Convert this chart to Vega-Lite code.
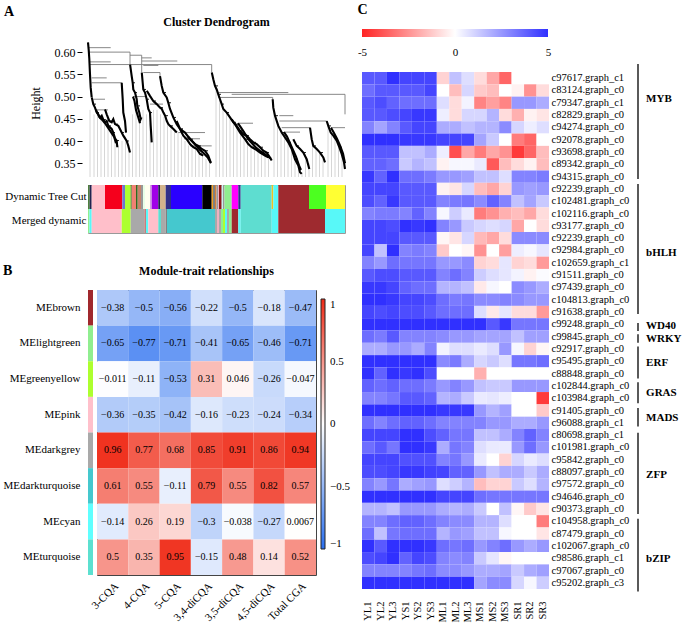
{
"$schema": "https://vega.github.io/schema/vega-lite/v6.json",
"padding": {"left": 3, "top": 3, "right": 0, "bottom": 0},
"config": {"font": "Liberation Serif", "view": {"stroke": null}, "title": {"color": "#000", "font": "Liberation Serif"}, "axis": {"labelColor": "#000", "titleColor": "#000", "labelFont": "Liberation Serif", "titleFont": "Liberation Serif"}, "legend": {"labelColor": "#000", "labelFont": "Liberation Serif"}, "text": {"font": "Liberation Serif"}},
"spacing": 6,
"hconcat": [
{
 "spacing": 30,
 "vconcat": [
 {
  "title": {"text": "A", "anchor": "start", "fontSize": 14, "fontWeight": "bold", "offset": -3},
  "spacing": 5,
  "vconcat": [
  {
   "title": {"text": "Cluster Dendrogram", "fontSize": 12, "fontWeight": "bold", "offset": 0},
   "width": 257, "height": 148,
   "encoding": {
    "x": {"field": "u", "type": "quantitative", "scale": {"domain": [0, 257], "nice": false, "zero": false}, "axis": null},
    "y": {"field": "v", "type": "quantitative", "scale": {"domain": [0.319, 0.652], "nice": false, "zero": false}, "axis": {"title": "Height", "values": [0.35, 0.4, 0.45, 0.5, 0.55, 0.6], "format": ".2f", "offset": 6, "labelFontSize": 12, "titleFontSize": 12, "titleFontWeight": "normal", "grid": false, "domain": false, "tickColor": "#000", "tickSize": 5, "titlePadding": 12}}
   },
   "layer": [
    {"data": {"values": [{}]},
     "mark": {"type": "rule", "color": "#000", "strokeWidth": 1},
     "encoding": {"x": {"datum": -6}, "y": {"datum": 0.319}, "y2": {"datum": 0.634}}},
    {"data": {"values": [
     {"u":2,"v":0.47},{"u":6,"v":0.46},{"u":9.5,"v":0.455},{"u":13,"v":0.45},{"u":16.5,"v":0.44},{"u":20,"v":0.43},{"u":23.5,"v":0.425},{"u":27,"v":0.40},{"u":30.5,"v":0.39},{"u":34,"v":0.40},{"u":37.5,"v":0.41},{"u":41,"v":0.38},{"u":44.5,"v":0.46},{"u":48,"v":0.48},{"u":51.5,"v":0.45},{"u":55,"v":0.47},{"u":58.5,"v":0.46},{"u":62,"v":0.44},{"u":65.5,"v":0.47},{"u":69,"v":0.47},{"u":72.5,"v":0.46},{"u":76,"v":0.455},{"u":79.5,"v":0.44},{"u":83,"v":0.43},{"u":86.5,"v":0.425},{"u":90,"v":0.42},{"u":93.5,"v":0.41},{"u":97,"v":0.40},{"u":100.5,"v":0.39},{"u":104,"v":0.385},{"u":107.5,"v":0.38},{"u":111,"v":0.37},{"u":114.5,"v":0.365},{"u":118,"v":0.36},{"u":121.5,"v":0.355},{"u":128,"v":0.52},{"u":131.5,"v":0.50},{"u":135,"v":0.47},{"u":138.5,"v":0.465},{"u":142,"v":0.45},{"u":145.5,"v":0.44},{"u":149,"v":0.43},{"u":152.5,"v":0.42},{"u":156,"v":0.41},{"u":159.5,"v":0.40},{"u":163,"v":0.39},{"u":166.5,"v":0.385},{"u":170,"v":0.38},{"u":173.5,"v":0.375},{"u":177,"v":0.37},{"u":180.5,"v":0.36},{"u":186,"v":0.47},{"u":189.5,"v":0.44},{"u":193,"v":0.42},{"u":196.5,"v":0.41},{"u":200,"v":0.40},{"u":203.5,"v":0.385},{"u":207,"v":0.36},{"u":210.5,"v":0.35},{"u":214,"v":0.33},{"u":217.5,"v":0.37},{"u":221,"v":0.35},{"u":224.5,"v":0.40},{"u":228,"v":0.385},{"u":231.5,"v":0.375},{"u":235,"v":0.36},{"u":240,"v":0.44},{"u":243.5,"v":0.42},{"u":247,"v":0.41},{"u":250.5,"v":0.39},{"u":254,"v":0.37}
    ]},
     "mark": {"type": "rule", "color": "#cccccc", "strokeWidth": 0.8},
     "encoding": {"y2": {"datum": 0.319}}},
    {"data": {"values": [
     {"u":0.3,"u2":22.7,"v":0.610,"v2":0.610},{"u":0.3,"u2":42,"v":0.600,"v2":0.600},{"u":42,"u2":53.7,"v":0.593,"v2":0.593},{"u":53.7,"u2":63.7,"v":0.587,"v2":0.587},{"u":53.7,"u2":89.3,"v":0.580,"v2":0.580},{"u":2,"u2":22.7,"v":0.578,"v2":0.578},{"u":2,"u2":123.7,"v":0.572,"v2":0.572},{"u":55.3,"u2":70.3,"v":0.570,"v2":0.570},{"u":55.3,"u2":72,"v":0.554,"v2":0.554},{"u":3.7,"u2":18.7,"v":0.542,"v2":0.542},{"u":3.7,"u2":33.7,"v":0.531,"v2":0.531},{"u":130.3,"u2":200.3,"v":0.509,"v2":0.509},{"u":143.7,"u2":257,"v":0.505,"v2":0.505},{"u":130.3,"u2":184.7,"v":0.498,"v2":0.498},{"u":5.3,"u2":17,"v":0.494,"v2":0.494},{"u":191.3,"u2":205.3,"v":0.457,"v2":0.457},{"u":191.3,"u2":238.7,"v":0.445,"v2":0.445},{"u":193.7,"u2":222,"v":0.430,"v2":0.430},{"u":90.3,"u2":117,"v":0.419,"v2":0.419},{"u":102,"u2":123.7,"v":0.389,"v2":0.389},{"u":62,"u2":75,"v":0.483,"v2":0.483},{"u":8,"u2":20,"v":0.470,"v2":0.470},{"u":45,"u2":58,"v":0.500,"v2":0.500},{"u":96,"u2":112,"v":0.405,"v2":0.405},{"u":150,"u2":165,"v":0.440,"v2":0.440},{"u":196,"u2":212,"v":0.420,"v2":0.420},{"u":243,"u2":257,"v":0.430,"v2":0.430},
     {"u":42,"u2":42,"v":0.600,"v2":0.572},{"u":53.7,"u2":53.7,"v":0.593,"v2":0.554},{"u":123.7,"u2":123.7,"v":0.572,"v2":0.554},{"u":257,"u2":257,"v":0.505,"v2":0.460},{"u":184.7,"u2":184.7,"v":0.498,"v2":0.494},{"u":72,"u2":72,"v":0.554,"v2":0.546},{"u":33.7,"u2":33.7,"v":0.531,"v2":0.52}
    ]},
     "mark": {"type": "rule", "color": "#7a7a7a", "strokeWidth": 0.9},
     "encoding": {"x2": {"field": "u2"}, "y2": {"field": "v2"}}},
    {"data": {"values": [
     {"u":5.3,"u2":8,"v":0.483},{"u":8.7,"u2":11,"v":0.464},{"u":12,"u2":14,"v":0.453},{"u":15.3,"u2":18,"v":0.448},{"u":20.3,"u2":23,"v":0.434},{"u":25.3,"u2":27,"v":0.419},{"u":28.7,"u2":31,"v":0.401},
     {"u":21.3,"u2":24,"v":0.445},{"u":27,"u2":30,"v":0.438},{"u":33.7,"u2":36,"v":0.419},{"u":38.7,"u2":41,"v":0.400},
     {"u":44.7,"u2":47,"v":0.531},{"u":47,"u2":49,"v":0.509},{"u":49.3,"u2":52,"v":0.479},
     {"u":55.3,"u2":58,"v":0.516},{"u":58.7,"u2":61,"v":0.494},{"u":62,"u2":64,"v":0.464},
     {"u":65.3,"u2":68,"v":0.490},{"u":72.1,"u2":75,"v":0.475},{"u":77.1,"u2":80,"v":0.457},{"u":82.1,"u2":85,"v":0.434},
     {"u":75.3,"u2":78,"v":0.509},{"u":80.3,"u2":83,"v":0.486},{"u":85.3,"u2":88,"v":0.453},{"u":92,"u2":95,"v":0.427},{"u":98.7,"u2":101,"v":0.404},{"u":105.3,"u2":108,"v":0.386},{"u":112,"u2":114,"v":0.371},
     {"u":92.1,"u2":95,"v":0.427},{"u":102.1,"u2":105,"v":0.404},{"u":110.3,"u2":113,"v":0.389},{"u":117,"u2":120,"v":0.378},
     {"u":127,"u2":130,"v":0.524},{"u":130.3,"u2":133,"v":0.505},{"u":133.7,"u2":136,"v":0.483},{"u":138.7,"u2":141,"v":0.464},{"u":145.3,"u2":148,"v":0.442},{"u":152,"u2":155,"v":0.423},{"u":158.7,"u2":161,"v":0.412},{"u":165.3,"u2":168,"v":0.397},{"u":172,"u2":175,"v":0.386},{"u":178.7,"u2":181,"v":0.374},
     {"u":147,"u2":150,"v":0.438},{"u":157,"u2":160,"v":0.404},{"u":163.7,"u2":166,"v":0.386},{"u":172.1,"u2":175,"v":0.374},
     {"u":187,"u2":190,"v":0.457},{"u":193.7,"u2":196,"v":0.419},{"u":200.3,"u2":203,"v":0.397},{"u":207,"u2":210,"v":0.359},
     {"u":208.7,"u2":211,"v":0.389},{"u":215.3,"u2":218,"v":0.374},
     {"u":225.3,"u2":228,"v":0.389},{"u":232,"u2":235,"v":0.374},
     {"u":240.3,"u2":243,"v":0.434},{"u":245.3,"u2":248,"v":0.412},{"u":251.3,"u2":254,"v":0.386}
    ]},
     "mark": {"type": "rule", "color": "#222", "strokeWidth": 1},
     "encoding": {"x2": {"field": "u2"}}},
    {"data": {"values": [
     {"r":"R0","u":0,"v":0.622},{"r":"R0","u":0.7,"v":0.605},{"r":"R0","u":1.3,"v":0.585},{"r":"R0","u":2,"v":0.55},{"r":"R0","u":2.7,"v":0.52},{"r":"R0","u":3.7,"v":0.498},
     {"r":"RA","u":3.8,"v":0.498},{"r":"RA","u":5.3,"v":0.483},{"r":"RA","u":7,"v":0.475},{"r":"RA","u":8.7,"v":0.464},{"r":"RA","u":10.3,"v":0.460},{"r":"RA","u":12,"v":0.453},{"r":"RA","u":13.7,"v":0.457},{"r":"RA","u":15.3,"v":0.448},{"r":"RA","u":17,"v":0.442},{"r":"RA","u":18.7,"v":0.445},{"r":"RA","u":20.3,"v":0.434},{"r":"RA","u":23.7,"v":0.427},{"r":"RA","u":25.3,"v":0.419},{"r":"RA","u":27,"v":0.406},{"r":"RA","u":28.7,"v":0.401},{"r":"RA","u":29.3,"v":0.386},
     {"r":"RB","u":17,"v":0.471},{"r":"RB","u":18.7,"v":0.460},{"r":"RB","u":21.3,"v":0.445},{"r":"RB","u":23.7,"v":0.442},{"r":"RB","u":25.3,"v":0.449},{"r":"RB","u":27,"v":0.438},{"r":"RB","u":30.3,"v":0.434},{"r":"RB","u":33.7,"v":0.419},{"r":"RB","u":35.3,"v":0.412},{"r":"RB","u":38.7,"v":0.400},{"r":"RB","u":40.3,"v":0.389},{"r":"RB","u":42,"v":0.374},
     {"r":"RC","u":33.7,"v":0.531},{"r":"RC","u":34.7,"v":0.494},{"r":"RC","u":35.3,"v":0.464},{"r":"RC","u":37,"v":0.445},{"r":"RC","u":38,"v":0.419},
     {"r":"RD","u":42.1,"v":0.572},{"r":"RD","u":43.7,"v":0.546},{"r":"RD","u":44.7,"v":0.531},{"r":"RD","u":45.3,"v":0.516},{"r":"RD","u":47,"v":0.509},{"r":"RD","u":48.7,"v":0.494},{"r":"RD","u":49.3,"v":0.479},{"r":"RD","u":51.3,"v":0.464},{"r":"RD","u":52.7,"v":0.449},{"r":"RD","u":53.5,"v":0.453},
     {"r":"RE","u":53.8,"v":0.554},{"r":"RE","u":54.7,"v":0.531},{"r":"RE","u":55.3,"v":0.516},{"r":"RE","u":57,"v":0.509},{"r":"RE","u":58.7,"v":0.494},{"r":"RE","u":60.3,"v":0.472},{"r":"RE","u":62,"v":0.464},{"r":"RE","u":62.7,"v":0.434},{"r":"RE","u":63.7,"v":0.397},
     {"r":"RF","u":58.8,"v":0.513},{"r":"RF","u":62.1,"v":0.501},{"r":"RF","u":65.3,"v":0.490},{"r":"RF","u":68.7,"v":0.483},{"r":"RF","u":72.1,"v":0.475},{"r":"RF","u":73.8,"v":0.472},{"r":"RF","u":75.4,"v":0.464},{"r":"RF","u":77.1,"v":0.457},{"r":"RF","u":78.8,"v":0.445},{"r":"RF","u":80.4,"v":0.438},{"r":"RF","u":82.1,"v":0.434},{"r":"RF","u":85.4,"v":0.427},{"r":"RF","u":88.8,"v":0.419},
     {"r":"RG","u":72,"v":0.546},{"r":"RG","u":73.7,"v":0.524},{"r":"RG","u":75.3,"v":0.509},{"r":"RG","u":78.7,"v":0.498},{"r":"RG","u":80.3,"v":0.486},{"r":"RG","u":82,"v":0.472},{"r":"RG","u":85.3,"v":0.453},{"r":"RG","u":88.7,"v":0.438},{"r":"RG","u":92,"v":0.427},{"r":"RG","u":95.3,"v":0.412},{"r":"RG","u":98.7,"v":0.404},{"r":"RG","u":102,"v":0.393},{"r":"RG","u":105.3,"v":0.386},{"r":"RG","u":108.7,"v":0.382},{"r":"RG","u":112,"v":0.371},{"r":"RG","u":115.3,"v":0.367},
     {"r":"RH","u":88.6,"v":0.445},{"r":"RH","u":92.1,"v":0.427},{"r":"RH","u":97,"v":0.419},{"r":"RH","u":102.1,"v":0.404},{"r":"RH","u":107,"v":0.393},{"r":"RH","u":110.3,"v":0.389},{"r":"RH","u":113.7,"v":0.382},{"r":"RH","u":117,"v":0.378},{"r":"RH","u":120.3,"v":0.367},{"r":"RH","u":122.7,"v":0.352},
     {"r":"RI","u":123.8,"v":0.554},{"r":"RI","u":125.3,"v":0.539},{"r":"RI","u":127,"v":0.524},{"r":"RI","u":128.7,"v":0.516},{"r":"RI","u":130.3,"v":0.505},{"r":"RI","u":132,"v":0.494},{"r":"RI","u":133.7,"v":0.483},{"r":"RI","u":135.3,"v":0.472},{"r":"RI","u":138.7,"v":0.464},{"r":"RI","u":142,"v":0.453},{"r":"RI","u":145.3,"v":0.442},{"r":"RI","u":148.7,"v":0.434},{"r":"RI","u":152,"v":0.423},{"r":"RI","u":155.3,"v":0.415},{"r":"RI","u":158.7,"v":0.412},{"r":"RI","u":162,"v":0.404},{"r":"RI","u":165.3,"v":0.397},{"r":"RI","u":168.7,"v":0.393},{"r":"RI","u":172,"v":0.386},{"r":"RI","u":175.3,"v":0.378},{"r":"RI","u":178.7,"v":0.374},{"r":"RI","u":182,"v":0.363},{"r":"RI","u":183.7,"v":0.356},
     {"r":"RJ","u":143.7,"v":0.449},{"r":"RJ","u":147,"v":0.438},{"r":"RJ","u":152.1,"v":0.419},{"r":"RJ","u":157,"v":0.404},{"r":"RJ","u":160.3,"v":0.393},{"r":"RJ","u":163.7,"v":0.386},{"r":"RJ","u":167,"v":0.382},{"r":"RJ","u":172.1,"v":0.374},{"r":"RJ","u":177,"v":0.367},{"r":"RJ","u":180.3,"v":0.363},
     {"r":"RK","u":184.7,"v":0.494},{"r":"RK","u":185.3,"v":0.475},{"r":"RK","u":187,"v":0.457},{"r":"RK","u":190.3,"v":0.434},{"r":"RK","u":193.7,"v":0.419},{"r":"RK","u":197,"v":0.408},{"r":"RK","u":200.3,"v":0.397},{"r":"RK","u":203.7,"v":0.382},{"r":"RK","u":207,"v":0.359},{"r":"RK","u":210.3,"v":0.345},{"r":"RK","u":212,"v":0.330},{"r":"RK","u":213.7,"v":0.326},
     {"r":"RL","u":205.3,"v":0.404},{"r":"RL","u":208.7,"v":0.389},{"r":"RL","u":212.1,"v":0.382},{"r":"RL","u":215.3,"v":0.374},{"r":"RL","u":218.7,"v":0.359},{"r":"RL","u":221.3,"v":0.337},
     {"r":"RM","u":222,"v":0.430},{"r":"RM","u":223.7,"v":0.404},{"r":"RM","u":225.3,"v":0.389},{"r":"RM","u":228.7,"v":0.382},{"r":"RM","u":232,"v":0.374},{"r":"RM","u":235.3,"v":0.363},{"r":"RM","u":237,"v":0.352},
     {"r":"RN","u":238.7,"v":0.445},{"r":"RN","u":240.3,"v":0.434},{"r":"RN","u":242.7,"v":0.419},{"r":"RN","u":245.3,"v":0.412},{"r":"RN","u":248.7,"v":0.401},{"r":"RN","u":251.3,"v":0.386},{"r":"RN","u":253.7,"v":0.371},{"r":"RN","u":256,"v":0.352},{"r":"RN","u":257,"v":0.337},
     {"r":"RP","u":150,"v":0.44},{"r":"RP","u":153,"v":0.43},{"r":"RP","u":156,"v":0.42},{"r":"RP","u":160,"v":0.405},{"r":"RP","u":164,"v":0.395},{"r":"RP","u":168,"v":0.385},{"r":"RP","u":172,"v":0.378},{"r":"RP","u":176,"v":0.372},{"r":"RP","u":180,"v":0.365},{"r":"RP","u":183,"v":0.36},
     {"r":"RQ","u":8,"v":0.47},{"r":"RQ","u":11,"v":0.455},{"r":"RQ","u":14,"v":0.448},{"r":"RQ","u":17,"v":0.44},{"r":"RQ","u":20,"v":0.43},{"r":"RQ","u":23,"v":0.42},{"r":"RQ","u":26,"v":0.41},{"r":"RQ","u":28,"v":0.395},
     {"r":"RR","u":196,"v":0.42},{"r":"RR","u":199,"v":0.41},{"r":"RR","u":202,"v":0.395},{"r":"RR","u":205,"v":0.38},{"r":"RR","u":208,"v":0.365},{"r":"RR","u":211,"v":0.345},{"r":"RR","u":213,"v":0.335},
     {"r":"RS","u":243,"v":0.43},{"r":"RS","u":246,"v":0.418},{"r":"RS","u":249,"v":0.405},{"r":"RS","u":252,"v":0.39},{"r":"RS","u":255,"v":0.372},{"r":"RS","u":257,"v":0.35},
     {"r":"RT","u":100,"v":0.41},{"r":"RT","u":104,"v":0.40},{"r":"RT","u":108,"v":0.39},{"r":"RT","u":112,"v":0.38},{"r":"RT","u":116,"v":0.372},{"r":"RT","u":120,"v":0.362},{"r":"RT","u":123,"v":0.35},
     {"r":"RU","u":45,"v":0.50},{"r":"RU","u":46.5,"v":0.49},{"r":"RU","u":48,"v":0.47},{"r":"RU","u":50,"v":0.455},{"r":"RU","u":52,"v":0.44}
    ]},
     "mark": {"type": "line", "color": "#000", "strokeWidth": 2.1, "strokeJoin": "miter"},
     "encoding": {"detail": {"field": "r"}}}
   ]
  },
  {
   "width": 257, "height": 48,
   "view": {"stroke": "#999"},
   "data": {"values": [
    {"t":"Dynamic Tree Cut","u1":0,"u2":1.7,"m":"darkolivegreen"},{"t":"Dynamic Tree Cut","u1":1.7,"u2":3.7,"m":"midnightblue"},{"t":"Dynamic Tree Cut","u1":3.7,"u2":17,"m":"pink"},{"t":"Dynamic Tree Cut","u1":17,"u2":34.3,"m":"red"},{"t":"Dynamic Tree Cut","u1":34.3,"u2":37,"m":"royalblue"},{"t":"Dynamic Tree Cut","u1":37,"u2":42.7,"m":"greenyellow"},{"t":"Dynamic Tree Cut","u1":42.7,"u2":43.7,"m":"darkgreen"},{"t":"Dynamic Tree Cut","u1":43.7,"u2":48,"m":"salmon"},{"t":"Dynamic Tree Cut","u1":48,"u2":49.7,"m":"darkgreen"},{"t":"Dynamic Tree Cut","u1":49.7,"u2":53,"m":"sienna"},{"t":"Dynamic Tree Cut","u1":53,"u2":55,"m":"grey60"},{"t":"Dynamic Tree Cut","u1":55,"u2":57,"m":"honeydew"},{"t":"Dynamic Tree Cut","u1":57,"u2":62,"m":"ivory"},{"t":"Dynamic Tree Cut","u1":62,"u2":63.7,"m":"plum"},{"t":"Dynamic Tree Cut","u1":63.7,"u2":70.3,"m":"purple"},{"t":"Dynamic Tree Cut","u1":70.3,"u2":72,"m":"midnightblue"},{"t":"Dynamic Tree Cut","u1":72,"u2":77.7,"m":"tan"},{"t":"Dynamic Tree Cut","u1":77.7,"u2":83,"m":"darkslateblue"},{"t":"Dynamic Tree Cut","u1":83,"u2":114.3,"m":"blue"},{"t":"Dynamic Tree Cut","u1":114.3,"u2":123.7,"m":"black"},{"t":"Dynamic Tree Cut","u1":123.7,"u2":125,"m":"orange"},{"t":"Dynamic Tree Cut","u1":125,"u2":127,"m":"grey"},{"t":"Dynamic Tree Cut","u1":127,"u2":128.5,"m":"darkorange"},{"t":"Dynamic Tree Cut","u1":128.5,"u2":130,"m":"grey60"},{"t":"Dynamic Tree Cut","u1":130,"u2":131,"m":"lightpink"},{"t":"Dynamic Tree Cut","u1":131,"u2":133.7,"m":"darkred"},{"t":"Dynamic Tree Cut","u1":133.7,"u2":135,"m":"lightcyan"},{"t":"Dynamic Tree Cut","u1":135,"u2":136.5,"m":"grey60"},{"t":"Dynamic Tree Cut","u1":136.5,"u2":143.7,"m":"lightgreen"},{"t":"Dynamic Tree Cut","u1":143.7,"u2":150.3,"m":"magenta"},{"t":"Dynamic Tree Cut","u1":150.3,"u2":152.7,"m":"darkslateblue"},{"t":"Dynamic Tree Cut","u1":152.7,"u2":183.7,"m":"turquoise"},{"t":"Dynamic Tree Cut","u1":183.7,"u2":185.3,"m":"gold"},{"t":"Dynamic Tree Cut","u1":185.3,"u2":190.3,"m":"cyan"},{"t":"Dynamic Tree Cut","u1":190.3,"u2":221,"m":"brown"},{"t":"Dynamic Tree Cut","u1":221,"u2":238,"m":"green"},{"t":"Dynamic Tree Cut","u1":238,"u2":257,"m":"yellow"},
    {"t":"Merged dynamic","u1":0,"u2":1.5,"m":"lightgreen"},{"t":"Merged dynamic","u1":1.5,"u2":3.7,"m":"cyan"},{"t":"Merged dynamic","u1":3.7,"u2":33.7,"m":"pink"},{"t":"Merged dynamic","u1":33.7,"u2":42.7,"m":"greenyellow"},{"t":"Merged dynamic","u1":42.7,"u2":56.3,"m":"darkgrey"},{"t":"Merged dynamic","u1":56.3,"u2":58,"m":"rosybrown"},{"t":"Merged dynamic","u1":58,"u2":60.3,"m":"cyan"},{"t":"Merged dynamic","u1":60.3,"u2":70.3,"m":"pink"},{"t":"Merged dynamic","u1":70.3,"u2":73,"m":"turquoise"},{"t":"Merged dynamic","u1":73,"u2":77.7,"m":"darkgrey"},{"t":"Merged dynamic","u1":77.7,"u2":79,"m":"grey"},{"t":"Merged dynamic","u1":79,"u2":127,"m":"darkturquoise"},{"t":"Merged dynamic","u1":127,"u2":129,"m":"darkgrey"},{"t":"Merged dynamic","u1":129,"u2":131,"m":"lightpink"},{"t":"Merged dynamic","u1":131,"u2":133,"m":"darkgrey"},{"t":"Merged dynamic","u1":133,"u2":135,"m":"lightgreen"},{"t":"Merged dynamic","u1":135,"u2":137,"m":"greenyellow"},{"t":"Merged dynamic","u1":137,"u2":139,"m":"cyan"},{"t":"Merged dynamic","u1":139,"u2":141,"m":"darkgrey"},{"t":"Merged dynamic","u1":141,"u2":143.7,"m":"lightgreen"},{"t":"Merged dynamic","u1":143.7,"u2":150.3,"m":"brown"},{"t":"Merged dynamic","u1":150.3,"u2":152.7,"m":"cyan"},{"t":"Merged dynamic","u1":152.7,"u2":183.7,"m":"turquoise"},{"t":"Merged dynamic","u1":183.7,"u2":190.3,"m":"cyan"},{"t":"Merged dynamic","u1":190.3,"u2":237,"m":"brown"},{"t":"Merged dynamic","u1":237,"u2":257,"m":"cyan"}
   ]},
   "mark": {"type": "rect"},
   "encoding": {
    "x": {"field": "u1", "type": "quantitative", "scale": {"domain": [0, 257], "nice": false, "zero": false}, "axis": null},
    "x2": {"field": "u2"},
    "y": {"field": "t", "type": "nominal", "sort": ["Dynamic Tree Cut", "Merged dynamic"], "scale": {"paddingInner": 0, "paddingOuter": 0}, "axis": {"title": null, "ticks": false, "domain": false, "labelFontSize": 11, "labelPadding": 2}},
    "color": {"field": "m", "type": "nominal", "legend": null, "scale": {
     "domain": ["darkolivegreen","midnightblue","pink","red","royalblue","greenyellow","darkgreen","salmon","sienna","grey60","honeydew","ivory","plum","purple","tan","darkslateblue","blue","black","orange","grey","darkorange","lightpink","darkred","lightcyan","lightgreen","magenta","turquoise","gold","cyan","brown","green","yellow","darkgrey","rosybrown","darkturquoise"],
     "range": ["#4F7F3F","#22224F","#FFBFCA","#F5001C","#6A78D0","#ADFF2F","#2F6A1F","#F08072","#C8806A","#999999","#E8FFE8","#FFFFF0","#D0A0E0","#A000E8","#D2B48C","#30308A","#2A00FF","#000000","#F0A020","#808080","#D08040","#F0B0C0","#8B1A1A","#C8F0F0","#90EE90","#FF00FF","#5EDDD0","#F0C020","#58F8F8","#9E2A2F","#4CFF20","#FFFF33","#A9A9A9","#C08080","#45C8CE"]}}
   }
  }
  ]
 },
 {
  "spacing": 4,
  "bounds": "flush",
  "hconcat": [
  {
   "title": {"text": "B", "anchor": "start", "frame": "bounds", "fontSize": 14, "fontWeight": "bold", "offset": 12},
   "width": 5, "height": 285,
   "data": {"values": [{"m":"MEbrown"},{"m":"MElightgreen"},{"m":"MEgreenyellow"},{"m":"MEpink"},{"m":"MEdarkgrey"},{"m":"MEdarkturquoise"},{"m":"MEcyan"},{"m":"MEturquoise"}]},
   "mark": {"type": "rect"},
   "encoding": {
    "y": {"field": "m", "type": "nominal", "sort": null, "scale": {"paddingInner": 0, "paddingOuter": 0}, "axis": {"title": null, "ticks": false, "domain": false, "labelFontSize": 11, "labelPadding": 8}},
    "color": {"field": "m", "type": "nominal", "legend": null, "scale": {"domain": ["MEbrown","MElightgreen","MEgreenyellow","MEpink","MEdarkgrey","MEdarkturquoise","MEcyan","MEturquoise"], "range": ["#A0282D","#90EE90","#ADFF2F","#FFC0CB","#A9A9A9","#45C8CE","#5FFFFF","#5CE0D0"]}}
   }
  },
  {
   "title": {"text": "Module-trait relationships", "fontSize": 12, "fontWeight": "bold", "offset": 12},
   "width": 219, "height": 285,
   "view": {"stroke": "#444", "strokeWidth": 1},
   "data": {"values": [
    {"m":"MEbrown","t":"3-CQA","r":-0.38},{"m":"MEbrown","t":"4-CQA","r":-0.5},{"m":"MEbrown","t":"5-CQA","r":-0.56},{"m":"MEbrown","t":"3,4-diCQA","r":-0.22},{"m":"MEbrown","t":"3,5-diCQA","r":-0.5},{"m":"MEbrown","t":"4,5-diCQA","r":-0.18},{"m":"MEbrown","t":"Total CGA","r":-0.47},
    {"m":"MElightgreen","t":"3-CQA","r":-0.65},{"m":"MElightgreen","t":"4-CQA","r":-0.77},{"m":"MElightgreen","t":"5-CQA","r":-0.71},{"m":"MElightgreen","t":"3,4-diCQA","r":-0.41},{"m":"MElightgreen","t":"3,5-diCQA","r":-0.65},{"m":"MElightgreen","t":"4,5-diCQA","r":-0.46},{"m":"MElightgreen","t":"Total CGA","r":-0.71},
    {"m":"MEgreenyellow","t":"3-CQA","r":-0.011},{"m":"MEgreenyellow","t":"4-CQA","r":-0.11},{"m":"MEgreenyellow","t":"5-CQA","r":-0.53},{"m":"MEgreenyellow","t":"3,4-diCQA","r":0.31},{"m":"MEgreenyellow","t":"3,5-diCQA","r":0.046},{"m":"MEgreenyellow","t":"4,5-diCQA","r":-0.26},{"m":"MEgreenyellow","t":"Total CGA","r":-0.047},
    {"m":"MEpink","t":"3-CQA","r":-0.36},{"m":"MEpink","t":"4-CQA","r":-0.35},{"m":"MEpink","t":"5-CQA","r":-0.42},{"m":"MEpink","t":"3,4-diCQA","r":-0.16},{"m":"MEpink","t":"3,5-diCQA","r":-0.23},{"m":"MEpink","t":"4,5-diCQA","r":-0.24},{"m":"MEpink","t":"Total CGA","r":-0.34},
    {"m":"MEdarkgrey","t":"3-CQA","r":0.96},{"m":"MEdarkgrey","t":"4-CQA","r":0.77},{"m":"MEdarkgrey","t":"5-CQA","r":0.68},{"m":"MEdarkgrey","t":"3,4-diCQA","r":0.85},{"m":"MEdarkgrey","t":"3,5-diCQA","r":0.91},{"m":"MEdarkgrey","t":"4,5-diCQA","r":0.86},{"m":"MEdarkgrey","t":"Total CGA","r":0.94},
    {"m":"MEdarkturquoise","t":"3-CQA","r":0.61},{"m":"MEdarkturquoise","t":"4-CQA","r":0.55},{"m":"MEdarkturquoise","t":"5-CQA","r":-0.11},{"m":"MEdarkturquoise","t":"3,4-diCQA","r":0.79},{"m":"MEdarkturquoise","t":"3,5-diCQA","r":0.55},{"m":"MEdarkturquoise","t":"4,5-diCQA","r":0.82},{"m":"MEdarkturquoise","t":"Total CGA","r":0.57},
    {"m":"MEcyan","t":"3-CQA","r":-0.14},{"m":"MEcyan","t":"4-CQA","r":0.26},{"m":"MEcyan","t":"5-CQA","r":0.19},{"m":"MEcyan","t":"3,4-diCQA","r":-0.3},{"m":"MEcyan","t":"3,5-diCQA","r":-0.038},{"m":"MEcyan","t":"4,5-diCQA","r":-0.27},{"m":"MEcyan","t":"Total CGA","r":0.0067},
    {"m":"MEturquoise","t":"3-CQA","r":0.5},{"m":"MEturquoise","t":"4-CQA","r":0.35},{"m":"MEturquoise","t":"5-CQA","r":0.95},{"m":"MEturquoise","t":"3,4-diCQA","r":-0.15},{"m":"MEturquoise","t":"3,5-diCQA","r":0.48},{"m":"MEturquoise","t":"4,5-diCQA","r":0.14},{"m":"MEturquoise","t":"Total CGA","r":0.52}
   ]},
   "encoding": {
    "x": {"field": "t", "type": "nominal", "sort": null, "scale": {"paddingInner": 0, "paddingOuter": 0}, "axis": {"title": null, "labelAngle": -45, "labelFontSize": 11, "ticks": false, "domain": false, "labelPadding": 5}},
    "y": {"field": "m", "type": "nominal", "sort": null, "scale": {"paddingInner": 0, "paddingOuter": 0}, "axis": null}
   },
   "layer": [
    {"mark": {"type": "rect"},
     "encoding": {"color": {"field": "r", "type": "quantitative", "scale": {"domain": [-1, 0, 1], "range": ["#2A6FEF", "#FFFFFF", "#EF2B17"], "interpolate": "rgb"},
      "legend": {"title": null, "orient": "none", "legendX": 224, "legendY": 9, "direction": "vertical", "gradientLength": 250, "gradientThickness": 4, "gradientStrokeColor": "#222", "gradientStrokeWidth": 1, "values": [-1, -0.5, 0, 0.5, 1], "format": "~g", "labelFontSize": 11, "labelOffset": 5}}}},
    {"mark": {"type": "text", "fontSize": 10, "color": "#000", "font": "Liberation Serif"},
     "encoding": {"text": {"field": "r", "type": "quantitative", "format": "~g"}}}
   ]
  }
  ]
 }
 ]
},
{
 "title": {"text": "C", "anchor": "start", "frame": "bounds", "fontSize": 14, "fontWeight": "bold", "offset": 12},
 "spacing": 6,
 "vconcat": [
 {
  "width": 186, "height": 8,
  "data": {"values": [{}]},
  "mark": {"type": "rect", "fill": {"gradient": "linear", "x1": 0, "x2": 1, "y1": 0, "y2": 0, "stops": [{"offset": 0, "color": "#FF2424"}, {"offset": 0.5, "color": "#FFFFFF"}, {"offset": 1, "color": "#3030FF"}]}},
  "encoding": {
   "x": {"datum": -5, "type": "quantitative", "scale": {"domain": [-5, 5], "nice": false, "zero": false}, "axis": {"title": null, "values": [-5, 0, 5], "labelExpr": "datum.value", "labelFlush": false, "ticks": false, "domain": false, "grid": false, "labelPadding": 9, "labelFontSize": 11}},
   "x2": {"datum": 5}
  }
 },
 {
 "spacing": 8,
 "hconcat": [
 {
  "width": 187, "height": 517,
  "data": {"values": [
   {"g":"c97617.graph_c1","YL1":4,"YL2":4,"YL3":5,"YS1":4.5,"YS2":4.5,"YS3":4.5,"ML1":-1,"ML2":1.5,"ML3":0.8,"MS1":-0.8,"MS2":-2,"MS3":-3.5,"SR1":0,"SR2":0,"SR3":0},
   {"g":"c83124.graph_c0","YL1":3.5,"YL2":4,"YL3":4,"YS1":4,"YS2":4,"YS3":4.5,"ML1":0,"ML2":-1.5,"ML3":1,"MS1":-1.2,"MS2":-1.5,"MS3":0,"SR1":-0.3,"SR2":-2.5,"SR3":-0.8},
   {"g":"c79347.graph_c1","YL1":4,"YL2":4.3,"YL3":3.8,"YS1":3.5,"YS2":3.5,"YS3":3.5,"ML1":0.8,"ML2":-0.8,"ML3":0.3,"MS1":-2.8,"MS2":-2.2,"MS3":-2.8,"SR1":2.5,"SR2":2.5,"SR3":2},
   {"g":"c82829.graph_c0","YL1":4,"YL2":4,"YL3":4.3,"YS1":4.5,"YS2":4.8,"YS3":4.8,"ML1":0.4,"ML2":-0.8,"ML3":1,"MS1":1,"MS2":1.8,"MS3":-0.8,"SR1":-1.8,"SR2":-0.3,"SR3":-0.6},
   {"g":"c94274.graph_c0","YL1":3,"YL2":2.2,"YL3":3,"YS1":4,"YS2":4.5,"YS3":4.5,"ML1":2,"ML2":2,"ML3":1.5,"MS1":1.8,"MS2":1.8,"MS3":2.8,"SR1":1,"SR2":0.4,"SR3":0.8},
   {"g":"c92078.graph_c0","YL1":5,"YL2":5,"YL3":5,"YS1":4.8,"YS2":4.8,"YS3":4.8,"ML1":4.5,"ML2":4.5,"ML3":4.5,"MS1":2.2,"MS2":1.3,"MS3":0,"SR1":-3,"SR2":-3.5,"SR3":0},
   {"g":"c93698.graph_c0","YL1":4,"YL2":4,"YL3":4,"YS1":1.5,"YS2":1.5,"YS3":2,"ML1":0.4,"ML2":-4,"ML3":-2,"MS1":-3,"MS2":-2,"MS3":-2.5,"SR1":-4.5,"SR2":-3.5,"SR3":-1.5},
   {"g":"c89342.graph_c0","YL1":3.8,"YL2":3.8,"YL3":3.5,"YS1":1.3,"YS2":1.8,"YS3":1.5,"ML1":-0.3,"ML2":0.2,"ML3":0.2,"MS1":0.5,"MS2":-3.8,"MS3":-1.5,"SR1":-0.8,"SR2":-0.3,"SR3":-1.5},
   {"g":"c94315.graph_c0","YL1":4.8,"YL2":3.8,"YL3":5,"YS1":3.5,"YS2":3.5,"YS3":3.2,"ML1":2.5,"ML2":2.5,"ML3":2.3,"MS1":1.5,"MS2":1.5,"MS3":0.8,"SR1":3,"SR2":3,"SR3":3.2},
   {"g":"c92239.graph_c0","YL1":4.5,"YL2":4.5,"YL3":4.5,"YS1":4,"YS2":4,"YS3":4,"ML1":-0.3,"ML2":-0.6,"ML3":1,"MS1":-1.5,"MS2":-2,"MS3":-1,"SR1":2.5,"SR2":2.3,"SR3":2.5},
   {"g":"c102481.graph_c0","YL1":4.3,"YL2":3.8,"YL3":4.8,"YS1":4,"YS2":4,"YS3":4,"ML1":3,"ML2":3.2,"ML3":3.3,"MS1":2.8,"MS2":3.8,"MS3":3,"SR1":1.5,"SR2":2.2,"SR3":1.3},
   {"g":"c102116.graph_c0","YL1":3,"YL2":3.2,"YL3":3.2,"YS1":3,"YS2":3.8,"YS3":3,"ML1":0.2,"ML2":1.2,"ML3":0.5,"MS1":-3,"MS2":-2.5,"MS3":-1.8,"SR1":-1.5,"SR2":-2,"SR3":-0.8},
   {"g":"c93177.graph_c0","YL1":4.5,"YL2":4.5,"YL3":4.3,"YS1":5,"YS2":4.8,"YS3":5,"ML1":3,"ML2":2.5,"ML3":1.3,"MS1":1,"MS2":0.8,"MS3":1,"SR1":-2,"SR2":0,"SR3":-0.8},
   {"g":"c92239.graph_c0|b","YL1":4.5,"YL2":4.5,"YL3":4.5,"YS1":4,"YS2":4,"YS3":4,"ML1":-0.2,"ML2":-0.6,"ML3":1,"MS1":-1.6,"MS2":-2,"MS3":-0.8,"SR1":2.8,"SR2":2.8,"SR3":2.8},
   {"g":"c92984.graph_c0","YL1":4.5,"YL2":1.5,"YL3":5,"YS1":3,"YS2":3.2,"YS3":3,"ML1":-1.2,"ML2":0,"ML3":-0.2,"MS1":-2.5,"MS2":0,"MS3":-2.2,"SR1":0.4,"SR2":0.2,"SR3":0.6},
   {"g":"c102659.graph_c1","YL1":3,"YL2":2.5,"YL3":3.5,"YS1":3.3,"YS2":3.3,"YS3":3.3,"ML1":2.5,"ML2":2.5,"ML3":2.8,"MS1":-1,"MS2":-0.8,"MS3":0.6,"SR1":-1,"SR2":-0.8,"SR3":-2.3},
   {"g":"c91511.graph_c0","YL1":4,"YL2":4.3,"YL3":4.3,"YS1":4,"YS2":4,"YS3":4,"ML1":3,"ML2":3.5,"ML3":3,"MS1":1.2,"MS2":0.8,"MS3":0.6,"SR1":0.3,"SR2":-0.3,"SR3":0.1},
   {"g":"c97439.graph_c0","YL1":4.8,"YL2":4.8,"YL3":4.5,"YS1":3.8,"YS2":3.5,"YS3":3.5,"ML1":1.8,"ML2":1.8,"ML3":1.5,"MS1":-0.5,"MS2":0.2,"MS3":0,"SR1":2.8,"SR2":2.5,"SR3":2},
   {"g":"c104813.graph_c0","YL1":5,"YL2":5,"YL3":4.8,"YS1":4.5,"YS2":4.5,"YS3":4.3,"ML1":3.5,"ML2":3.2,"ML3":3.3,"MS1":2.8,"MS2":2.8,"MS3":3,"SR1":2.8,"SR2":2.5,"SR3":2.5},
   {"g":"c91638.graph_c0","YL1":4.5,"YL2":4.3,"YL3":4.5,"YS1":4.3,"YS2":4.3,"YS3":4,"ML1":3.5,"ML2":3.5,"ML3":3.5,"MS1":0.8,"MS2":-0.5,"MS3":0.6,"SR1":-0.8,"SR2":-0.8,"SR3":-2.3},
   {"g":"c99248.graph_c0","YL1":5,"YL2":5,"YL3":5,"YS1":5,"YS2":5,"YS3":5,"ML1":5,"ML2":5,"ML3":5,"MS1":5,"MS2":4,"MS3":4.8,"SR1":3.3,"SR2":3.3,"SR3":3.3},
   {"g":"c99845.graph_c0","YL1":3.5,"YL2":3.2,"YL3":4,"YS1":3,"YS2":3,"YS3":3,"ML1":2.8,"ML2":2.5,"ML3":2.5,"MS1":2.2,"MS2":2.2,"MS3":2.2,"SR1":1.5,"SR2":2.3,"SR3":2.3},
   {"g":"c92917.graph_c0","YL1":2,"YL2":2,"YL3":2.5,"YS1":2.5,"YS2":2,"YS3":3,"ML1":0.3,"ML2":0.8,"ML3":0.8,"MS1":0.5,"MS2":0.8,"MS3":2.5,"SR1":0.2,"SR2":-1,"SR3":-0.2},
   {"g":"c95495.graph_c0","YL1":5,"YL2":5,"YL3":5,"YS1":5,"YS2":5,"YS3":5,"ML1":2.8,"ML2":3.2,"ML3":2,"MS1":1,"MS2":1.3,"MS3":0.8,"SR1":3.3,"SR2":3.3,"SR3":3.5},
   {"g":"c88848.graph_c0","YL1":5,"YL2":3.8,"YL3":5,"YS1":4.8,"YS2":5,"YS3":4.3,"ML1":0,"ML2":0,"ML3":0,"MS1":-1.8,"MS2":0,"MS3":0,"SR1":0,"SR2":0,"SR3":0},
   {"g":"c102844.graph_c0","YL1":3.8,"YL2":3.5,"YL3":3.8,"YS1":3.5,"YS2":3.5,"YS3":3.2,"ML1":2.5,"ML2":3,"ML3":2.5,"MS1":1.5,"MS2":1.3,"MS3":1.3,"SR1":2.5,"SR2":2.5,"SR3":2.5},
   {"g":"c103984.graph_c0","YL1":3,"YL2":3,"YL3":3.3,"YS1":4,"YS2":4,"YS3":3.8,"ML1":1.8,"ML2":2,"ML3":1.3,"MS1":0.5,"MS2":0.6,"MS3":0.4,"SR1":0,"SR2":0,"SR3":-4.5},
   {"g":"c91405.graph_c0","YL1":5,"YL2":5,"YL3":5,"YS1":5,"YS2":5,"YS3":5,"ML1":4.8,"ML2":4.8,"ML3":4.8,"MS1":2.5,"MS2":1.8,"MS3":2.3,"SR1":0,"SR2":0,"SR3":-1.2},
   {"g":"c96088.graph_c1","YL1":3.5,"YL2":3,"YL3":3.5,"YS1":3.8,"YS2":3.8,"YS3":3.5,"ML1":3,"ML2":3,"ML3":3,"MS1":3,"MS2":2.5,"MS3":2.5,"SR1":2,"SR2":2,"SR3":2.5},
   {"g":"c80698.graph_c1","YL1":4.5,"YL2":4.5,"YL3":4.5,"YS1":5,"YS2":5,"YS3":4.3,"ML1":3.8,"ML2":3.3,"ML3":3.3,"MS1":1.5,"MS2":1.5,"MS3":2,"SR1":3,"SR2":3.8,"SR3":3},
   {"g":"c101981.graph_c0","YL1":3.5,"YL2":4,"YL3":3.3,"YS1":5,"YS2":5,"YS3":4.8,"ML1":2,"ML2":3.3,"ML3":3,"MS1":0.8,"MS2":0.5,"MS3":0.5,"SR1":2.5,"SR2":3.5,"SR3":2.5},
   {"g":"c95842.graph_c0","YL1":4.5,"YL2":4.5,"YL3":4.5,"YS1":4.2,"YS2":4.2,"YS3":4.2,"ML1":3,"ML2":3.3,"ML3":2.5,"MS1":0.5,"MS2":0,"MS3":-1,"SR1":1,"SR2":0.5,"SR3":0.8},
   {"g":"c88097.graph_c0","YL1":4.3,"YL2":4.3,"YL3":4.5,"YS1":4.8,"YS2":4.8,"YS3":4.6,"ML1":4.5,"ML2":3.8,"ML3":3.8,"MS1":2.5,"MS2":1.5,"MS3":2,"SR1":2,"SR2":1.3,"SR3":2},
   {"g":"c97572.graph_c0","YL1":3,"YL2":2.5,"YL3":3.3,"YS1":2,"YS2":2.3,"YS3":2.5,"ML1":0.8,"ML2":1.2,"ML3":1.8,"MS1":-1.5,"MS2":-1,"MS3":-1,"SR1":1.3,"SR2":0.8,"SR3":1.8},
   {"g":"c94646.graph_c0","YL1":5,"YL2":5,"YL3":5,"YS1":5,"YS2":5,"YS3":5,"ML1":4.5,"ML2":4.5,"ML3":4.5,"MS1":3.5,"MS2":3.3,"MS3":3.3,"SR1":3.3,"SR2":3.3,"SR3":3.3},
   {"g":"c90373.graph_c0","YL1":1.8,"YL2":1.8,"YL3":1.5,"YS1":2.5,"YS2":2.5,"YS3":2.5,"ML1":2,"ML2":1.8,"ML3":2,"MS1":1.3,"MS2":0,"MS3":1.5,"SR1":-0.2,"SR2":-1.2,"SR3":-0.6},
   {"g":"c104958.graph_c0","YL1":3,"YL2":3,"YL3":3.5,"YS1":3.8,"YS2":3.8,"YS3":3.5,"ML1":3,"ML2":2.8,"ML3":2.8,"MS1":1.8,"MS2":1.8,"MS3":0.8,"SR1":0,"SR2":0,"SR3":-3},
   {"g":"c87479.graph_c0","YL1":3.5,"YL2":1.5,"YL3":3.3,"YS1":3.5,"YS2":3.5,"YS3":3.5,"ML1":1.8,"ML2":2.5,"ML3":2.3,"MS1":1.5,"MS2":1.5,"MS3":0.2,"SR1":0,"SR2":0,"SR3":-0.6},
   {"g":"c102067.graph_c0","YL1":5,"YL2":4,"YL3":5,"YS1":5,"YS2":5,"YS3":4.8,"ML1":3.5,"ML2":3.3,"ML3":3.5,"MS1":2.5,"MS2":3,"MS3":3.5,"SR1":2.5,"SR2":2,"SR3":2.5},
   {"g":"c98586.graph_c1","YL1":4.3,"YL2":4.5,"YL3":5,"YS1":3.8,"YS2":4.5,"YS3":4.3,"ML1":3,"ML2":2.8,"ML3":3,"MS1":1.3,"MS2":0.6,"MS3":-0.2,"SR1":0,"SR2":0,"SR3":0},
   {"g":"c97067.graph_c0","YL1":3,"YL2":3,"YL3":3,"YS1":3,"YS2":3.3,"YS3":3.5,"ML1":2.8,"ML2":2.8,"ML3":2.5,"MS1":2,"MS2":2,"MS3":2.2,"SR1":1.3,"SR2":2,"SR3":2.3},
   {"g":"c95202.graph_c3","YL1":5,"YL2":5,"YL3":5,"YS1":5,"YS2":5,"YS3":5,"ML1":5,"ML2":5,"ML3":5,"MS1":2.2,"MS2":2.8,"MS3":2.8,"SR1":1,"SR2":0.2,"SR3":1.2}
  ]},
  "transform": [{"fold": ["YL1","YL2","YL3","YS1","YS2","YS3","ML1","ML2","ML3","MS1","MS2","MS3","SR1","SR2","SR3"], "as": ["sample", "z"]}],
  "mark": {"type": "rect"},
  "encoding": {
   "x": {"field": "sample", "type": "nominal", "sort": null, "scale": {"paddingInner": 0, "paddingOuter": 0}, "axis": {"title": null, "labelAngle": -90, "ticks": false, "domain": false, "labelFontSize": 10.5, "labelPadding": 12}},
   "y": {"field": "g", "type": "nominal", "sort": null, "scale": {"paddingInner": 0, "paddingOuter": 0}, "axis": {"orient": "right", "title": null, "ticks": false, "domain": false, "labelFontSize": 10.5, "labelPadding": 2, "labelExpr": "split(datum.value, '|')[0]"}},
   "color": {"field": "z", "type": "quantitative", "scale": {"domain": [-5, 0, 5], "range": ["#FF2424", "#FFFFFF", "#3030FF"], "interpolate": "rgb"}, "legend": null}
  }
 },
 {
  "width": 45, "height": 517,
  "data": {"values": [
   {"grp":"MYB","lo":-0.65,"hi":8.69,"mid":2.2},
   {"grp":"bHLH","lo":9.1,"hi":19.66,"mid":14.7},
   {"grp":"WD40","lo":20.4,"hi":21.05,"mid":20.6},
   {"grp":"WRKY","lo":21.3,"hi":22.0,"mid":21.7},
   {"grp":"ERF","lo":22.3,"hi":24.9,"mid":23.6},
   {"grp":"GRAS","lo":25.2,"hi":26.9,"mid":26.1},
   {"grp":"MADS","lo":27.3,"hi":28.8,"mid":28.1},
   {"grp":"ZFP","lo":29.3,"hi":35.9,"mid":32.7},
   {"grp":"bZIP","lo":36.3,"hi":42.2,"mid":39.6}
  ]},
  "layer": [
   {"mark": {"type": "rule", "color": "#000", "strokeWidth": 1.3},
    "encoding": {
     "x": {"datum": 0, "type": "quantitative", "scale": {"domain": [0, 1]}, "axis": null},
     "y": {"field": "lo", "type": "quantitative", "scale": {"domain": [0, 42], "reverse": true, "nice": false, "zero": false}, "axis": null},
     "y2": {"field": "hi"}}},
   {"mark": {"type": "text", "align": "left", "baseline": "middle", "fontSize": 11, "fontWeight": "bold", "color": "#000", "font": "Liberation Serif"},
    "encoding": {
     "x": {"datum": 0.18, "type": "quantitative", "scale": {"domain": [0, 1]}, "axis": null},
     "y": {"field": "mid", "type": "quantitative", "scale": {"domain": [0, 42], "reverse": true, "nice": false, "zero": false}, "axis": null},
     "text": {"field": "grp"}}}
  ]
 }
 ]
 }
 ]
}
]
}
